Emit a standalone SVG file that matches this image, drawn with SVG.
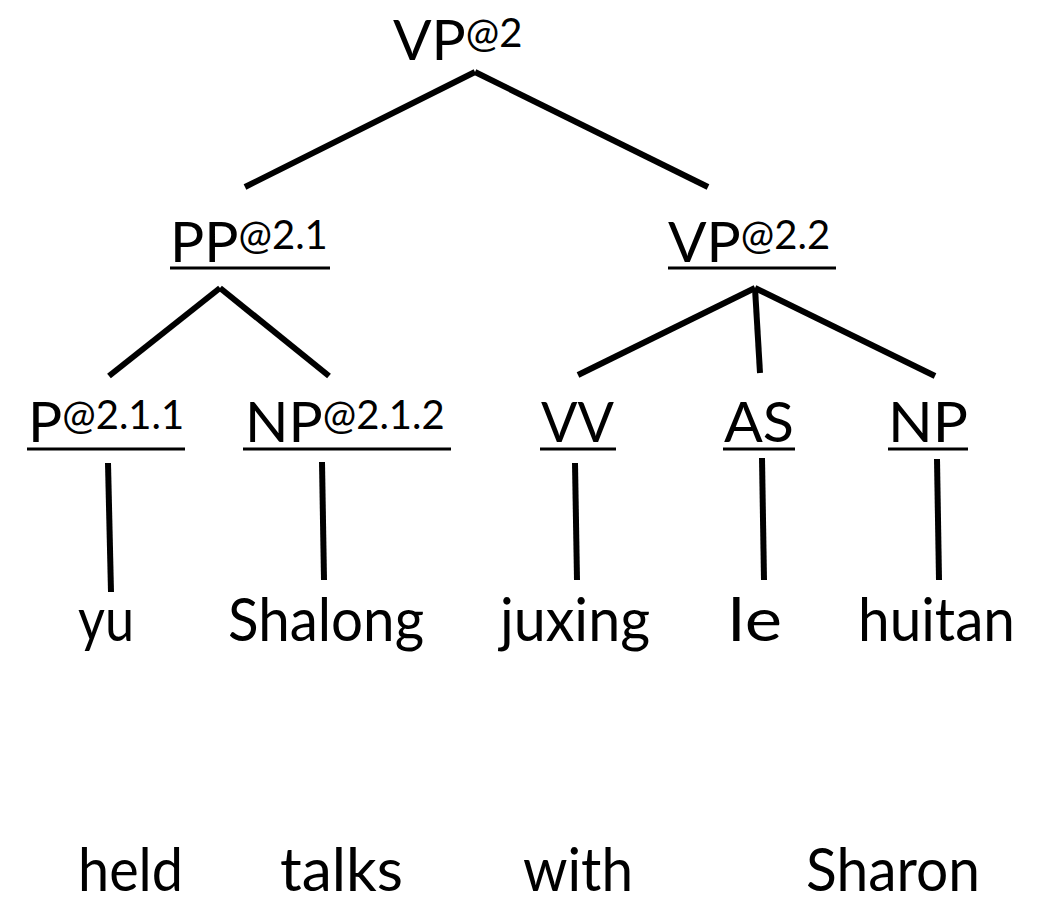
<svg xmlns="http://www.w3.org/2000/svg" width="1041" height="903" viewBox="0 0 1041 903">
  <style>
    text { font-family: "Lato", "Open Sans", "DejaVu Sans", sans-serif; fill: #000; }
    .lbl { font-size: 57px; }
    .sup { font-size: 40px; }
    .word { font-size: 60px; }
    .edge { stroke: #000; stroke-width: 6; stroke-linecap: butt; fill: none; }
    .uline { stroke: #000; stroke-width: 3; }
  </style>
  <rect width="1041" height="903" fill="#fff"/>

  <!-- tree edges -->
  <g id="connectors">
    <line class="edge" x1="475" y1="72" x2="245" y2="187"/>
    <line class="edge" x1="475" y1="72" x2="708" y2="187"/>
    <line class="edge" x1="220" y1="288" x2="109" y2="376"/>
    <line class="edge" x1="220" y1="288" x2="329" y2="376"/>
    <line class="edge" x1="755" y1="288" x2="578" y2="375"/>
    <line class="edge" x1="755" y1="288" x2="760" y2="373"/>
    <line class="edge" x1="755" y1="288" x2="935" y2="376"/>
    <line class="edge" x1="108" y1="463" x2="111" y2="592"/>
    <line class="edge" x1="322" y1="462" x2="324" y2="580"/>
    <line class="edge" x1="575" y1="463" x2="577" y2="580"/>
    <line class="edge" x1="762" y1="458" x2="764" y2="580"/>
    <line class="edge" x1="937" y1="459" x2="939" y2="580"/>
  </g>

  <!-- root -->
  <g id="n-vp2">
    <text x="393" y="60"><tspan class="lbl">VP</tspan><tspan class="sup" dy="-13">@2</tspan></text>
  </g>

  <!-- second level -->
  <g id="n-pp21">
    <text x="170" y="262"><tspan class="lbl">PP</tspan><tspan class="sup" dy="-13">@2.1</tspan></text>
    <line class="uline" x1="170" y1="268" x2="330" y2="268"/>
  </g>
  <g id="n-vp22">
    <text x="668" y="262"><tspan class="lbl">VP</tspan><tspan class="sup" dy="-13">@2.2</tspan></text>
    <line class="uline" x1="668" y1="268" x2="836" y2="268"/>
  </g>

  <!-- pre-terminals -->
  <g id="n-p211">
    <text x="28" y="442"><tspan class="lbl">P</tspan><tspan class="sup" dy="-13">@2.1.1</tspan></text>
    <line class="uline" x1="27" y1="449" x2="185" y2="449"/>
  </g>
  <g id="n-np212">
    <text x="245" y="442"><tspan class="lbl">NP</tspan><tspan class="sup" dy="-13">@2.1.2</tspan></text>
    <line class="uline" x1="243" y1="449" x2="451" y2="449"/>
  </g>
  <g id="n-vv">
    <text class="lbl" x="541" y="442" textLength="73" lengthAdjust="spacingAndGlyphs">VV</text>
    <line class="uline" x1="540" y1="449" x2="616" y2="449"/>
  </g>
  <g id="n-as">
    <text class="lbl" x="724" y="442" textLength="70" lengthAdjust="spacingAndGlyphs">AS</text>
    <line class="uline" x1="723" y1="449" x2="795" y2="449"/>
  </g>
  <g id="n-np">
    <text class="lbl" x="888" y="442" textLength="80" lengthAdjust="spacingAndGlyphs">NP</text>
    <line class="uline" x1="888" y1="449" x2="968" y2="449"/>
  </g>

  <!-- source words -->
  <g id="w-yu"><text class="word" x="78" y="641" textLength="56" lengthAdjust="spacingAndGlyphs">yu</text></g>
  <g id="w-shalong"><text class="word" x="228" y="641" textLength="196" lengthAdjust="spacingAndGlyphs">Shalong</text></g>
  <g id="w-juxing"><text class="word" x="500" y="641" textLength="150" lengthAdjust="spacingAndGlyphs">juxing</text></g>
  <g id="w-le"><text class="word" x="728" y="641" textLength="54" lengthAdjust="spacingAndGlyphs">le</text></g>
  <g id="w-huitan"><text class="word" x="858" y="641" textLength="157" lengthAdjust="spacingAndGlyphs">huitan</text></g>

  <!-- gloss -->
  <g id="g-held"><text class="word" x="78" y="891" textLength="105" lengthAdjust="spacingAndGlyphs">held</text></g>
  <g id="g-talks"><text class="word" x="280" y="891" textLength="123" lengthAdjust="spacingAndGlyphs">talks</text></g>
  <g id="g-with"><text class="word" x="523" y="891" textLength="110" lengthAdjust="spacingAndGlyphs">with</text></g>
  <g id="g-sharon"><text class="word" x="806" y="891" textLength="174" lengthAdjust="spacingAndGlyphs">Sharon</text></g>
</svg>
